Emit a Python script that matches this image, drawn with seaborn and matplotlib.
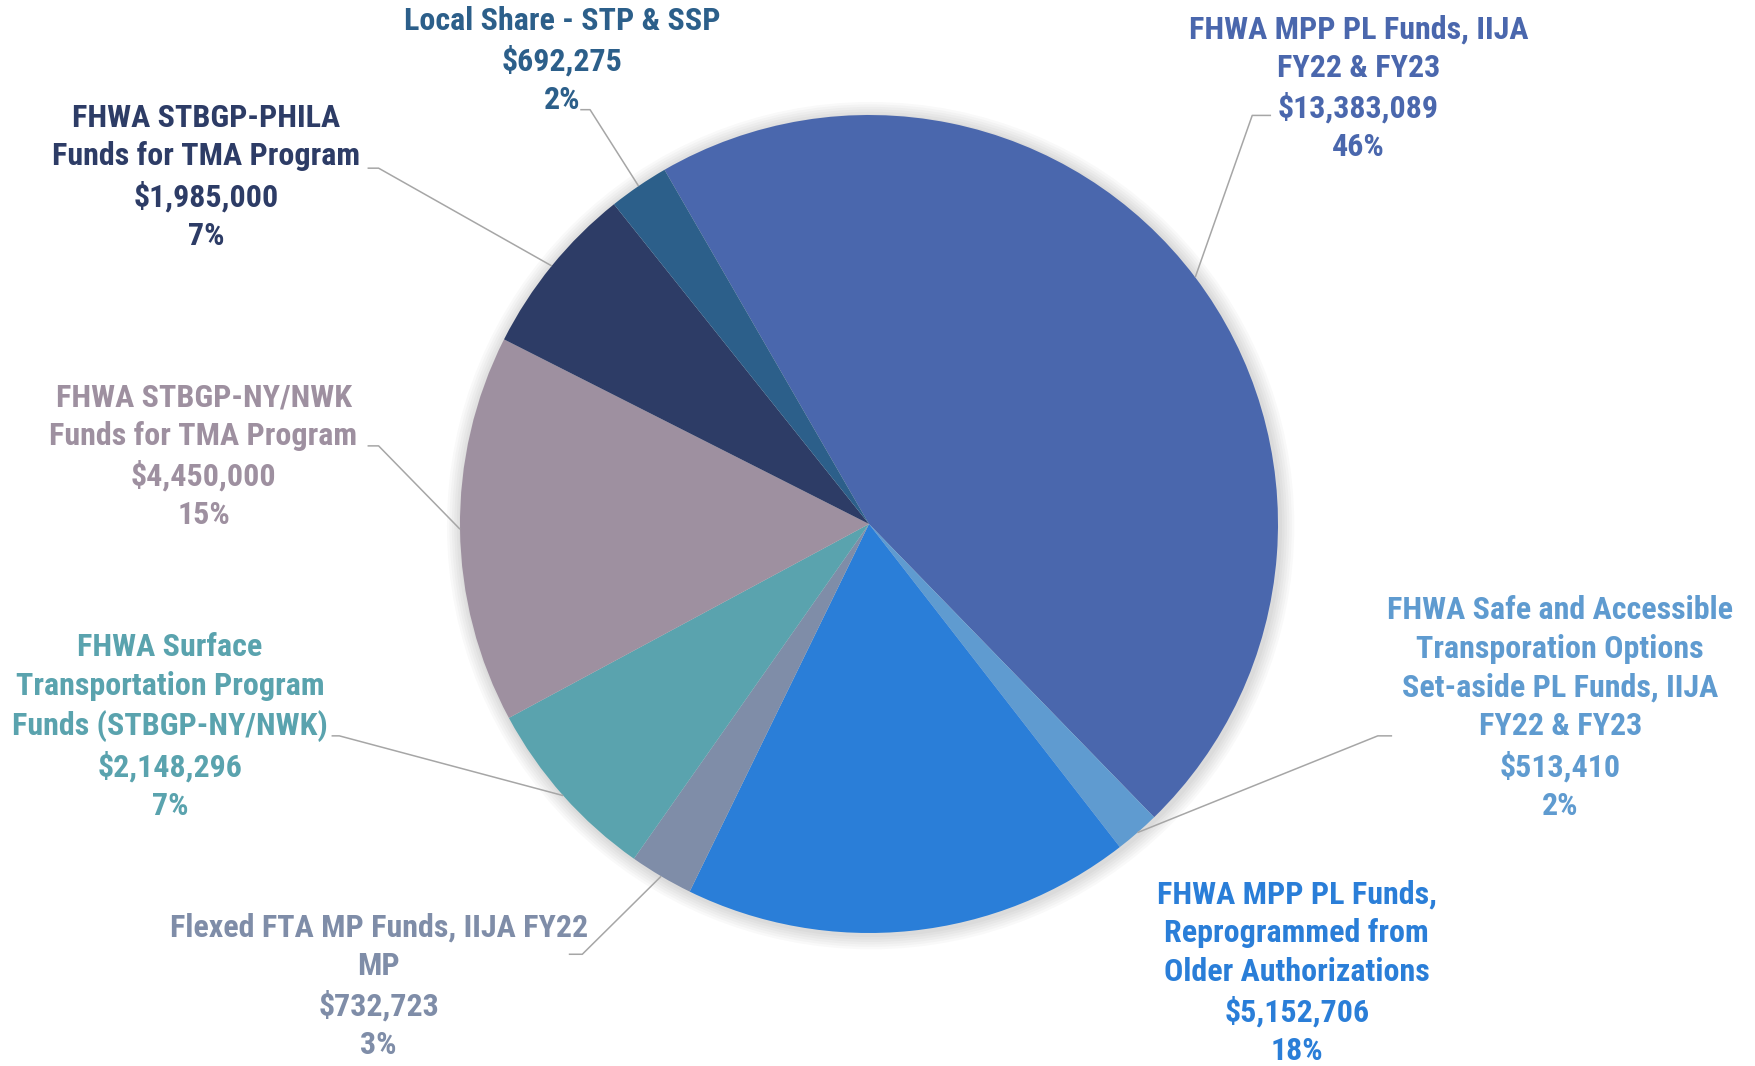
import matplotlib
matplotlib.use("Agg")
import numpy as np
import seaborn as sns
import matplotlib.pyplot as plt
from matplotlib import font_manager

# funding sources, clockwise from the big slice
sources = [
    "FHWA MPP PL Funds, IIJA\nFY22 & FY23",
    "FHWA Safe and Accessible\nTransporation Options\nSet-aside PL Funds, IIJA\nFY22 & FY23",
    "FHWA MPP PL Funds,\nReprogrammed from\nOlder Authorizations",
    "Flexed FTA MP Funds, IIJA FY22\nMP",
    "FHWA Surface\nTransportation Program\nFunds (STBGP-NY/NWK)",
    "FHWA STBGP-NY/NWK\nFunds for TMA Program",
    "FHWA STBGP-PHILA\nFunds for TMA Program",
    "Local Share - STP & SSP",
]
amounts = [13383089, 513410, 5152706, 732723, 2148296, 4450000, 1985000, 692275]
colors = ["#4A67AD", "#5F9BD0", "#2A7ED8", "#7F8DA8",
          "#5AA3AE", "#9E90A0", "#2D3C66", "#2C5F8A"]

# label block centres (pie radius = 1)
label_pos = [(1.197, 1.065), (1.690, -0.450), (1.046, -1.098), (-1.199, -1.130),
             (-1.709, -0.496), (-1.627, 0.165), (-1.621, 0.849), (-0.750, 1.133)]
# leader line: elbow x, end x, y  (None = no leader)
leaders = [(0.937, 0.983, 0.999), (1.244, 1.279, -0.518), None, (-0.701, -0.734, -1.052),
           (-1.295, -1.314, -0.518), (-1.199, -1.226, 0.191), (-1.199, -1.226, 0.870),
           (-0.682, -0.706, 1.013)]

sns.set_theme(style="white")
installed = {f.name for f in font_manager.fontManager.ttflist}
narrow = [f for f in ["Liberation Sans Narrow", "Roboto Condensed", "Open Sans Condensed",
                      "Lato", "Roboto"] if f in installed]
plt.rcParams["font.family"] = narrow[:1] + ["DejaVu Sans"]

W, H, DPI = 1756, 1066, 100
cx, cy, R = 869, 524, 409  # pie centre / radius in pixels

fig = plt.figure(figsize=(W / DPI, H / DPI), dpi=DPI)
ax = fig.add_axes([0, 0, 1, 1])

# faint halo standing in for Excel's soft shadow
for k in range(6):
    ax.add_patch(plt.Circle((0.004, -0.004), 1 + 0.006 * (k + 1), color="black",
                            alpha=0.025, lw=0, zorder=0))

wedges, _ = ax.pie(amounts, colors=colors, startangle=120, counterclock=False,
                   radius=1, wedgeprops=dict(linewidth=0, zorder=1))
ax.set_xlim(-cx / R, (W - cx) / R)
ax.set_ylim(-(H - cy) / R, cy / R)
ax.set_aspect("equal")
ax.axis("off")

total = sum(amounts)
for w, name, amt, col, pos, ld in zip(wedges, sources, amounts, colors, label_pos, leaders):
    pct = round(amt / total * 100)
    ax.text(pos[0], pos[1], f"{name}\n${amt:,.0f}\n{pct}%", ha="center", va="center",
            multialignment="center", color=col, fontsize=23, fontweight="bold",
            linespacing=1.36)
    if ld is None:
        continue
    mid = np.deg2rad((w.theta1 + w.theta2) / 2)
    ex, ey = np.cos(mid), np.sin(mid)
    ax.plot([ex, ld[0], ld[1]], [ey, ld[2], ld[2]], color="#A6A6A6", lw=1.1,
            solid_capstyle="butt", zorder=2)

fig.savefig("out.png", dpi=DPI, facecolor="white")
